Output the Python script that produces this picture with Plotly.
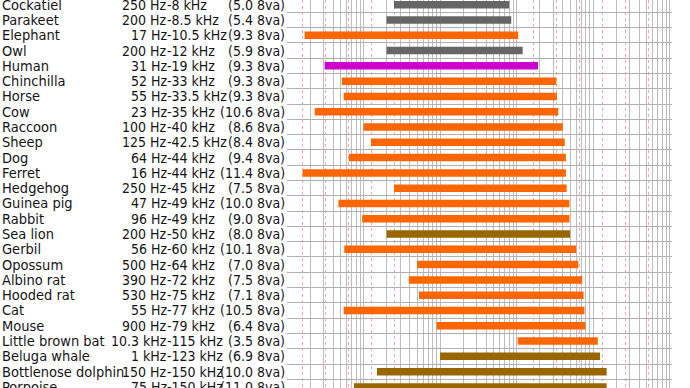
import plotly.graph_objects as go

# ---- data ----
animals = ["Cockatiel", "Parakeet", "Elephant", "Owl", "Human", "Chinchilla", "Horse", "Cow",
           "Raccoon", "Sheep", "Dog", "Ferret", "Hedgehog", "Guinea pig", "Rabbit", "Sea lion",
           "Gerbil", "Opossum", "Albino rat", "Hooded rat", "Cat", "Mouse", "Little brown bat",
           "Beluga whale", "Bottlenose dolphin", "Porpoise"]
low_hz = [250, 200, 17, 200, 31, 52, 55, 23, 100, 125, 64, 16, 250, 47, 96, 200,
          56, 500, 390, 530, 55, 900, 10300, 1000, 150, 75]
high_hz = [8000, 8500, 10500, 12000, 19000, 33000, 33500, 35000, 40000, 42500, 44000, 44000,
           45000, 49000, 49000, 50000, 60000, 64000, 72000, 75000, 77000, 79000, 115000,
           123000, 150000, 150000]
octaves = [5.0, 5.4, 9.3, 5.9, 9.3, 9.3, 9.3, 10.6, 8.6, 8.4, 9.4, 11.4, 7.5, 10.0, 9.0, 8.0,
           10.1, 7.0, 7.5, 7.1, 10.5, 6.4, 3.5, 6.9, 10.0, 11.0]
groups = ["bird", "bird", "land", "bird", "human", "land", "land", "land", "land", "land",
          "land", "land", "land", "land", "land", "marine", "land", "land", "land", "land",
          "land", "land", "land", "marine", "marine", "marine"]

# ---- styles ----
group_colors = {"bird": "#666666", "land": "#ff6600", "human": "#cc00cc", "marine": "#996600"}
FONT = "DejaVu Sans Condensed, DejaVu Sans, sans-serif"
TXT = "#151515"


def fmt(f):
    if f >= 1000:
        return "%g kHz" % (f / 1000)
    return "%g Hz" % f


fig = go.Figure()
for g, col in group_colors.items():
    xs, ys = [], []
    for i, a in enumerate(animals):
        if groups[i] == g:
            xs += [low_hz[i], high_hz[i], None]
            ys += [i, i, None]
    fig.add_trace(go.Scatter(x=xs, y=ys, mode="lines", line=dict(color=col, width=7.5),
                             hoverinfo="skip", showlegend=False))

ann = []
for i, a in enumerate(animals):
    common = dict(xref="paper", yref="y", x=0, y=i, yanchor="middle", showarrow=False,
                  borderpad=0)
    f_name = dict(family=FONT, size=14.5, color=TXT)
    f_num = dict(family=FONT, size=14, color=TXT)
    ann.append(dict(text=a, xanchor="left", xshift=-286, font=f_name, **common))
    ann.append(dict(text=fmt(low_hz[i]), xanchor="right", xshift=-119, font=f_num, **common))
    ann.append(dict(text="-" + fmt(high_hz[i]), xanchor="left", xshift=-121, font=f_num,
                    **common))
    ann.append(dict(text="(%.1f 8va)" % octaves[i], xanchor="right", xshift=-1, font=f_num,
                    **common))

major = [k * 10 ** n for n in range(1, 6) for k in range(1, 10)] + [10 ** 6]
octave_lines = [2 ** n for n in range(4, 21)]

fig.update_layout(
    width=690, height=388, autosize=False,
    margin=dict(l=287, r=18, t=0, b=0, pad=0),
    paper_bgcolor="white", plot_bgcolor="white",
    annotations=ann,
    xaxis=dict(type="log", range=[1, 6.03], tickmode="array", tickvals=major,
               showticklabels=False, ticks="", showgrid=True, gridcolor="#bdbdbd",
               gridwidth=1, zeroline=False, showline=False,
               minor=dict(tickmode="array", tickvals=octave_lines, showgrid=True,
                          gridcolor="rgba(255,60,60,0.45)", griddash="dot", gridwidth=1,
                          ticks="")),
    yaxis=dict(range=[25.07, -0.307], tickmode="array",
               tickvals=[i + 0.5 for i in range(-1, 26)], showticklabels=False, ticks="",
               showgrid=True, gridcolor="#b0b0b0", gridwidth=1, zeroline=False,
               showline=False),
)

fig.write_html("out.html", config={"displayModeBar": False},
               post_script="document.body.style.margin='0';document.body.style.overflow='hidden';")
